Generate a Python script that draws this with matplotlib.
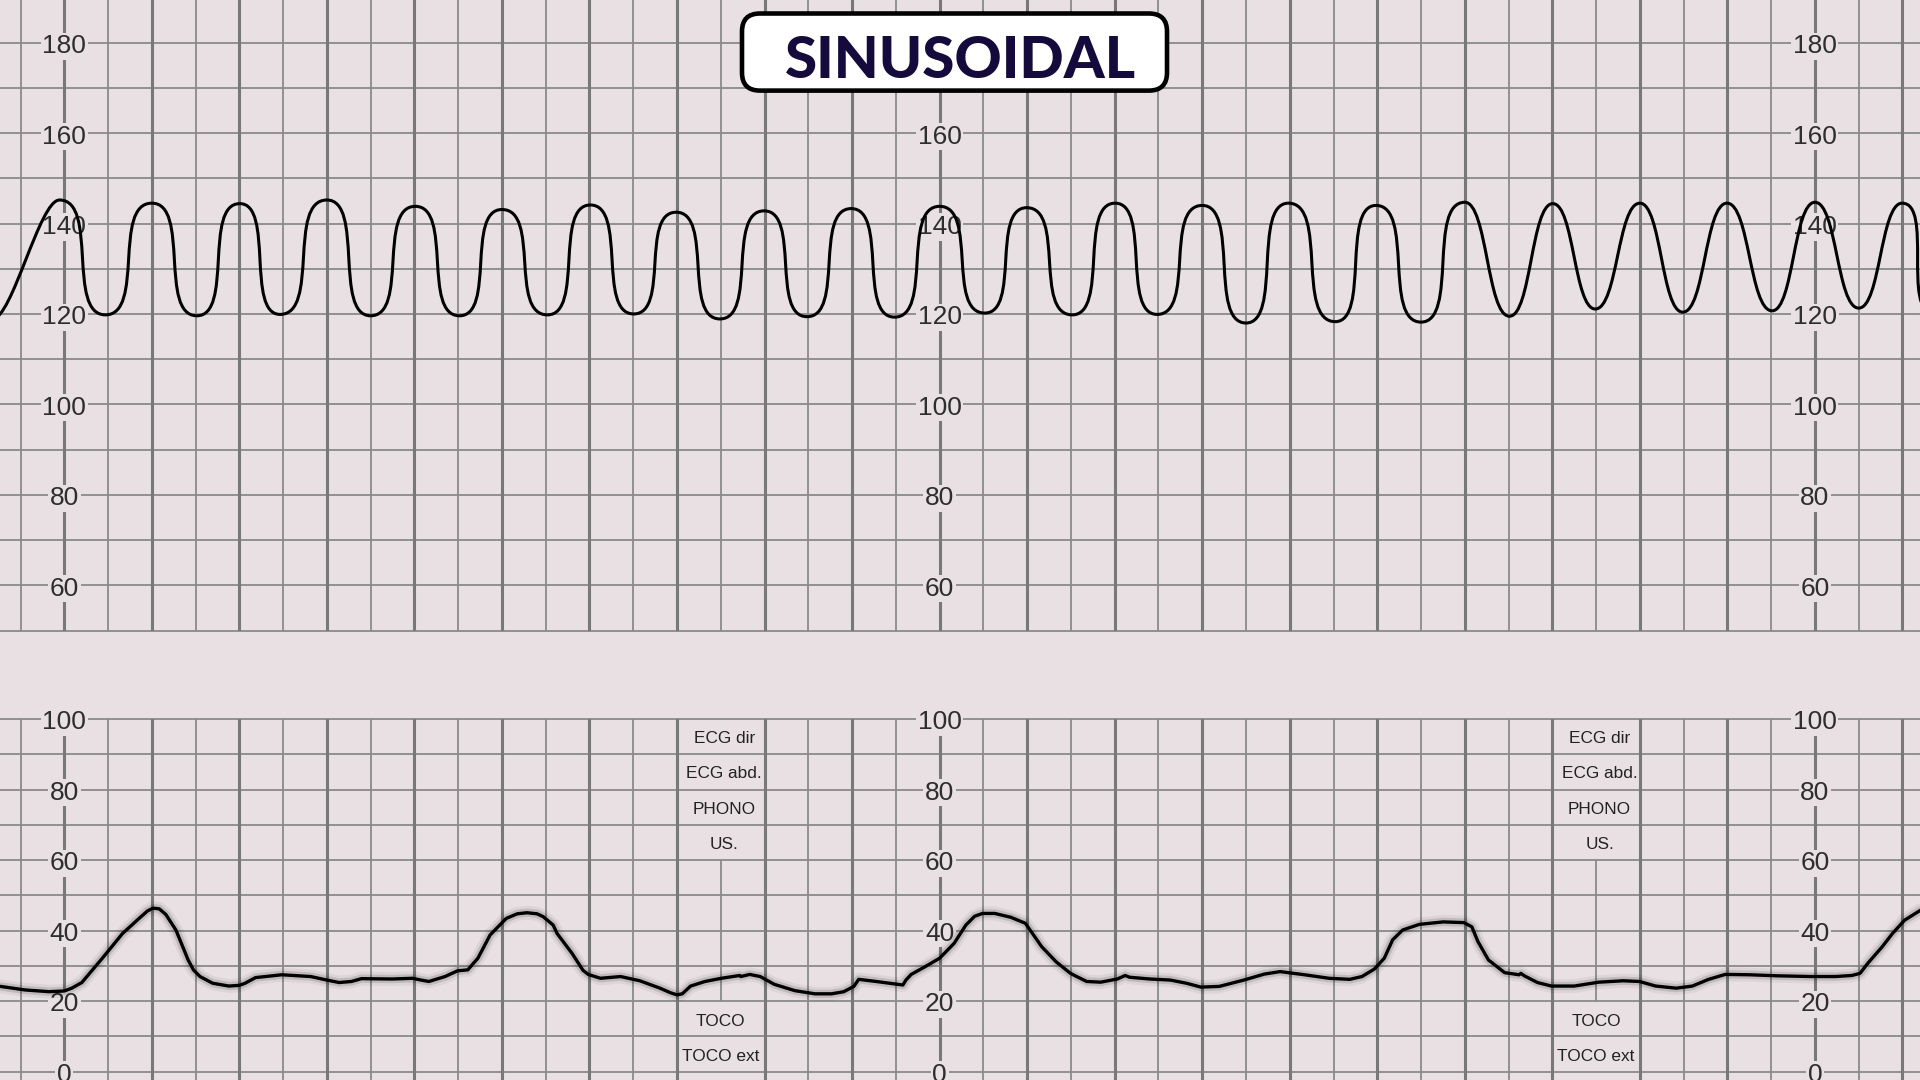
import matplotlib
matplotlib.use("Agg")
import matplotlib.pyplot as plt
from matplotlib.path import Path
from matplotlib.patches import PathPatch, FancyBboxPatch
from matplotlib.transforms import offset_copy
import matplotlib.patheffects as pe

# ---------------- data (x in chart grid units, 0 / 20 / 40 = scale columns) -------------
fhr_x = [-1.65, -0.11, 0.94, 2.0, 3.03, 4.01, 4.93, 6.0, 7.0, 8.02, 9.03, 10.0, 11.04,
         12.02, 13.01, 13.98, 14.98, 15.99, 16.97, 17.98, 18.97, 20.0, 21.03, 21.99,
         23.03, 24.01, 24.97, 26.0, 27.0, 27.97, 29.04, 29.97, 31.0, 32.0, 33.02, 34.01,
         34.98, 36.0, 36.98, 37.99, 39.02, 40.0, 41.0, 41.99, 42.7]
fhr_bpm = [118.8, 145.2, 119.8, 144.5, 119.6, 144.4, 119.9, 145.2, 119.6, 143.8, 119.6,
           143.1, 119.8, 144.1, 120.0, 142.5, 118.9, 142.8, 119.4, 143.3, 119.3, 143.8,
           120.2, 143.5, 119.8, 144.5, 119.9, 144.0, 118.0, 144.5, 118.3, 144.0, 118.2,
           144.7, 119.5, 144.4, 121.1, 144.5, 120.4, 144.5, 120.7, 144.7, 121.3, 144.5,
           120.3]

ua_x = [-1.46, -0.9, -0.35, 0.0, 0.17, 0.40, 0.87, 1.33, 1.71, 1.9, 2.03, 2.17, 2.32,
        2.55, 2.83, 2.95, 3.1, 3.39, 3.76, 4.0, 4.13, 4.37, 4.97, 5.63, 6.0, 6.28, 6.56,
        6.79, 7.49, 7.96, 8.15, 8.33, 8.70, 8.98, 9.22, 9.45, 9.73, 10.1, 10.35, 10.57,
        10.8, 10.94, 11.17, 11.26, 11.6, 11.85, 11.97, 12.25, 12.71, 13.15, 13.61, 13.85,
        14.0, 14.12, 14.31, 14.64, 15.01, 15.43, 15.46, 15.66, 15.9, 16.22, 16.69, 17.15,
        17.53, 17.81, 18.04, 18.15, 18.55, 19.16, 19.23, 19.35, 19.67, 20.0, 20.33, 20.6,
        20.8, 20.98, 21.26, 21.63, 21.96, 22.33, 22.66, 22.99, 23.13, 23.36, 23.68, 24.06,
        24.24, 24.34, 24.8, 25.27, 25.64, 25.97, 26.39, 26.95, 27.42, 27.78, 28.34, 28.9,
        29.37, 29.65, 29.93, 30.16, 30.35, 30.58, 30.96, 31.51, 31.98, 32.16, 32.3, 32.54,
        32.91, 33.24, 33.28, 33.36, 33.66, 33.98, 34.5, 35.06, 35.62, 35.99, 36.36, 36.83,
        37.2, 37.57, 37.95, 38.51, 39.16, 39.91, 40.47, 40.84, 41.03, 41.21, 41.54, 41.77,
        42.05, 42.41]
ua_val = [24.2, 23.2, 22.7, 22.9, 23.7, 25.3, 32.2, 39.2, 43.5, 45.6, 46.4, 46.2, 44.6,
          40.2, 31.7, 28.9, 27.0, 25.1, 24.3, 24.5, 25.1, 26.7, 27.5, 27.0, 26.0, 25.3,
          25.6, 26.4, 26.3, 26.5, 26.0, 25.6, 27.0, 28.6, 28.9, 32.2, 38.8, 43.5, 44.8,
          45.1, 44.8, 44.0, 41.6, 39.2, 33.6, 28.8, 27.6, 26.5, 27.0, 25.8, 23.7, 22.4,
          21.8, 22.1, 24.3, 25.6, 26.5, 27.3, 27.0, 27.6, 27.0, 24.8, 23.0, 22.1, 22.1,
          22.7, 24.2, 26.2, 25.6, 24.6, 26.0, 27.6, 29.8, 32.2, 36.4, 41.6, 44.1, 44.9,
          44.9, 43.8, 42.1, 35.5, 31.2, 27.9, 27.0, 25.6, 25.4, 26.3, 27.3, 26.8, 26.3,
          26.0, 25.1, 24.0, 24.2, 26.0, 27.7, 28.4, 27.5, 26.5, 26.2, 27.0, 29.1, 32.2,
          37.4, 40.2, 41.8, 42.5, 42.3, 41.1, 36.9, 31.7, 28.1, 27.5, 27.9, 27.2, 25.3,
          24.3, 24.3, 25.4, 25.8, 25.6, 24.3, 23.7, 24.3, 26.2, 27.6, 27.5, 27.2, 27.0,
          27.0, 27.3, 27.9, 30.8, 35.5, 39.2, 43.0, 45.8]

fhr_ticks = [60, 80, 100, 120, 140, 160, 180]
ua_ticks = [0, 20, 40, 60, 80, 100]
scale_columns = [0, 20, 40]
channel_labels = ["ECG dir", "ECG abd.", "PHONO", "US."]
channel_label_y = [94.5, 84.5, 74.5, 64.5]
toco_labels = ["TOCO", "TOCO ext"]
toco_label_y = [14.2, 4.4]
label_blocks = [15, 35]
title_text = "SINUSOIDAL"

# ---------------- style ----------------
BG = "#E8E0E3"
THIN = "#8A8A8A"
THICK = "#787878"
TXT = "#2E2E2E"
XLIM = (-1.469, 42.40)

fig = plt.figure(figsize=(19.2, 10.8), dpi=100, facecolor=BG)
ax_top = fig.add_axes([0, 1 - 630.5 / 1080, 1, 630.5 / 1080])
ax_bot = fig.add_axes([0, 0, 1, (1080 - 719.2) / 1080])
ax_top.set_xlim(*XLIM)
ax_top.set_ylim(50, 189.43)
ax_bot.set_xlim(*XLIM)
ax_bot.set_ylim(-2.35, 100)
for ax in (ax_top, ax_bot):
    ax.axis("off")

# ---------------- grid ----------------
grid_cols = list(range(-1, 43))
for ax, hlines in ((ax_top, range(50, 190, 10)), (ax_bot, range(0, 110, 10))):
    for v in hlines:
        ax.axhline(v, color=THIN, lw=1.3, zorder=1, clip_on=False)
    for k in grid_cols:
        thick = (k % 2 == 0)
        if ax is ax_bot and k in label_blocks:
            ax.vlines(k, 20, 60, color=THIN, lw=1.3, zorder=1)
            continue
        ax.axvline(k, color=THICK if thick else THIN, lw=2.2 if thick else 1.3, zorder=1)

# ---------------- scale labels ----------------
num_kw = dict(ha="center", va="center", fontsize=19, family=["Liberation Sans", "DejaVu Sans"],
              color=TXT, zorder=3,
              bbox=dict(boxstyle="square,pad=0.06", fc=BG, ec="none"))
top_tr = offset_copy(ax_top.transData, fig=fig, y=-3.5, units="dots")
bot_tr = offset_copy(ax_bot.transData, fig=fig, y=-3.0, units="dots")
for col in scale_columns:
    for v in fhr_ticks:
        if col == 20 and v == 180:
            continue  # hidden behind the title badge in the reference
        ax_top.text(col, v, str(v), transform=top_tr, **num_kw)
    for v in ua_ticks:
        ax_bot.text(col, v, str(v), transform=bot_tr, clip_on=False, **num_kw)

lab_kw = dict(ha="center", va="center", fontsize=12.4,
              family=["Liberation Sans", "DejaVu Sans"], color="#222222", zorder=3)
for bx in label_blocks:
    for t, y in zip(channel_labels, channel_label_y):
        ax_bot.text(bx + 0.08, y, t, **lab_kw)
    for t, y in zip(toco_labels, toco_label_y):
        ax_bot.text(bx, y, t, **lab_kw)

# ---------------- FHR trace (cubic curves between successive extrema) ----------------
verts = [(fhr_x[0], fhr_bpm[0])]
codes = [Path.MOVETO]
nseg = len(fhr_x) - 1
for i in range(nseg):
    x0, y0, x1, y1 = fhr_x[i], fhr_bpm[i], fhr_x[i + 1], fhr_bpm[i + 1]
    if i == 0:
        a = 0.3
    elif i == nseg - 1:
        a = 1.0
    elif x0 >= 31.9:
        a = 0.5
    else:
        a = 0.85
    dx = x1 - x0
    verts += [(x0 + a * dx, y0), (x1 - a * dx, y1), (x1, y1)]
    codes += [Path.CURVE4] * 3
ax_top.add_patch(PathPatch(Path(verts, codes), fill=False, ec="black", lw=2.2,
                           zorder=5, joinstyle="round", capstyle="round"))

# ---------------- UA trace ----------------
ax_bot.plot(ua_x, ua_val, color="black", lw=2.4, zorder=5,
            solid_joinstyle="round", solid_capstyle="round",
            path_effects=[pe.Stroke(linewidth=10, foreground=(0, 0, 0, 0.05)),
                          pe.Stroke(linewidth=6, foreground=(0, 0, 0, 0.12)),
                          pe.Normal()])

# ---------------- title badge ----------------
tr = fig.dpi_scale_trans
box = FancyBboxPatch((7.42, (1080 - 90.6) / 100), 4.25, 0.771,
                     boxstyle="round,pad=0,rounding_size=0.18",
                     fc="white", ec="black", lw=3.3, transform=tr, zorder=10)
fig.add_artist(box)
fig.text(9.60, (1080 - 78.4) / 100, title_text, transform=tr, ha="center", va="baseline",
         fontsize=42, fontweight="black", family=["Lato", "DejaVu Sans"],
         color="#140A3C", zorder=11)

fig.savefig("out.png", dpi=100, facecolor=BG)
